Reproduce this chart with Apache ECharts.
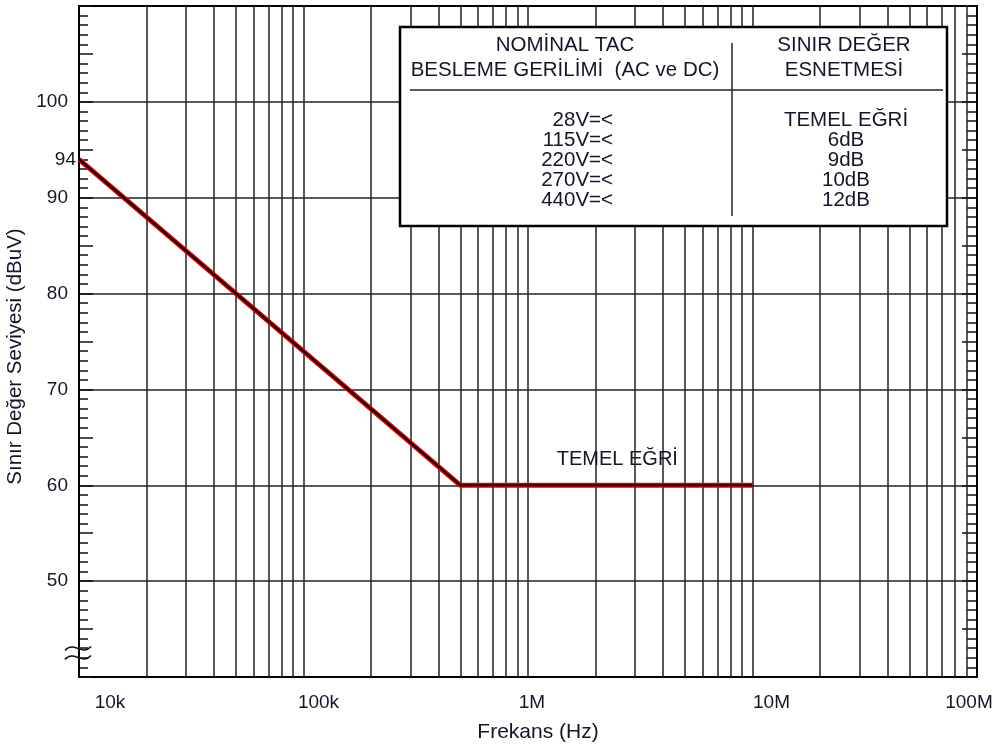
<!DOCTYPE html>
<html><head><meta charset="utf-8">
<script src="https://cdn.jsdelivr.net/npm/echarts@6/dist/echarts.min.js"></script>
<style>html,body{margin:0;padding:0;background:#fff}#c{width:997px;height:748px}</style>
</head><body><div id="c"></div>
<script>
// ---- data ----
const freqs = [10000, 500000, 10000000];
const levels = [94, 60, 60];
const xTickLabels = ['10k', '100k', '1M', '10M', '100M'];
const yTickValues = [50, 60, 70, 80, 90, 100];
const gridDecades = [1e4, 1e5, 1e6, 1e7];
const gridMultipliers = [2, 3, 4, 5, 6, 7, 8, 9];
const startLabel = '94';
const curveLabel = 'TEMEL EĞRİ';
const curveLabelFreq = 2.5e6;
const tableLeftHeader = ['NOMİNAL TAC', 'BESLEME GERİLİMİ  (AC ve DC)'];
const tableRightHeader = ['SINIR DEĞER', 'ESNETMESİ'];
const supplyVoltages = ['28V=<', '115V=<', '220V=<', '270V=<', '440V=<'];
const limitRelaxations = ['TEMEL EĞRİ', '6dB', '9dB', '10dB', '12dB'];
const xTitle = 'Frekans (Hz)';
const yTitle = 'Sınır Değer Seviyesi (dBuV)';
const breakLevel = 42.5;

// ---- styles ----
const FONT = "'Liberation Sans', Arial, sans-serif";
const TXT = '#15152a';
const GRID = '#222';

const chart = echarts.init(document.getElementById('c'), null, {renderer: 'canvas'});
const curve = freqs.map((f, i) => [f, levels[i]]);
const minorFreqs = [];
gridDecades.forEach(d => gridMultipliers.forEach(m => minorFreqs.push(d * m)));

// per-label horizontal shift (px) of the frequency tick labels
const labelShift = [31, 15, 4, 19, -8];
const rich = {};
labelShift.forEach((s, i) => {
  rich['l' + i] = {
    fontSize: 19, fontFamily: FONT, color: TXT,
    padding: s >= 0 ? [0, 0, 0, 2 * s] : [0, -2 * s, 0, 0]
  };
});

const yBase = {
  type: 'value', min: 40, max: 110, gridIndex: 0,
  axisLine: {show: true, lineStyle: {color: '#000', width: 2}},
  splitLine: {show: false}, axisLabel: {show: false}, axisTick: {show: false}
};

const option = {
  animation: false,
  backgroundColor: '#fff',
  grid: {left: 79, right: 20, top: 6, bottom: 71, containLabel: false, outerBoundsMode: 'none'},
  xAxis: [{
    type: 'log', logBase: 10, min: 1e4, max: 1e8,
    axisLine: {show: true, onZero: false, lineStyle: {color: '#000', width: 2}},
    axisTick: {show: false},
    splitLine: {show: true, lineStyle: {color: GRID, width: 1.5}},
    axisLabel: {
      show: true, margin: 16, showMinLabel: true, showMaxLabel: true,
      formatter: v => {
        const i = Math.round(Math.log10(v)) - 4;
        return (i >= 0 && i < xTickLabels.length) ? '{l' + i + '|' + xTickLabels[i] + '}' : '';
      },
      rich: rich
    },
    name: xTitle, nameLocation: 'middle', nameGap: 45,
    nameTextStyle: {fontSize: 21, fontFamily: FONT, color: TXT, padding: [0, 0, 0, 20]}
  }, {
    type: 'log', logBase: 10, min: 1e4, max: 1e8, position: 'top',
    axisLine: {show: true, onZero: false, lineStyle: {color: '#000', width: 2}},
    axisTick: {show: false}, axisLabel: {show: false}, splitLine: {show: false}
  }],
  yAxis: [
    Object.assign({}, yBase, {
      position: 'left', interval: 10,
      splitLine: {show: true, lineStyle: {color: GRID, width: 1.5}},
      axisTick: {show: false, inside: true},
      minorTick: {show: true, splitNumber: 10, length: 9, lineStyle: {color: '#111', width: 1.5}},
      axisLabel: {
        show: true, margin: 11, fontSize: 19, fontFamily: FONT, color: TXT,
        formatter: v => yTickValues.indexOf(Math.round(v)) >= 0 ? String(Math.round(v)) : ''
      },
      name: yTitle, nameLocation: 'middle', nameGap: 48, nameRotate: 90,
      nameTextStyle: {fontSize: 20.5, fontFamily: FONT, color: TXT, padding: [0, 30, 0, 0]}
    }),
    Object.assign({}, yBase, {
      position: 'left', interval: 5,
      axisTick: {show: true, inside: true, length: 14, lineStyle: {color: '#111', width: 1.5}}
    }),
    Object.assign({}, yBase, {
      position: 'right', interval: 10,
      axisTick: {show: false, inside: true},
      minorTick: {show: true, splitNumber: 10, length: 10, lineStyle: {color: '#111', width: 1.5}}
    }),
    Object.assign({}, yBase, {
      position: 'right', interval: 5,
      axisTick: {show: true, inside: true, length: 15, lineStyle: {color: '#111', width: 1.5}}
    })
  ],
  series: [
    {
      type: 'line', data: [], xAxisIndex: 0, yAxisIndex: 0, silent: true, z: 1,
      markLine: {
        silent: true, symbol: 'none', animation: false,
        label: {show: false},
        lineStyle: {color: GRID, width: 1.5, type: 'solid'},
        emphasis: {disabled: true},
        data: minorFreqs.map(v => ({xAxis: v}))
      }
    },
    {
      type: 'line', data: curve, xAxisIndex: 0, yAxisIndex: 0, z: 5,
      symbol: 'none', lineStyle: {color: '#d40000', width: 5},
      markPoint: {
        symbol: 'circle', symbolSize: 0, silent: true,
        data: [
          {coord: [freqs[0], levels[0]], label: {show: true, position: 'left', distance: 3, formatter: startLabel,
            fontSize: 19, fontFamily: FONT, color: TXT}},
          {coord: [curveLabelFreq, levels[1]], label: {show: true, position: 'top', distance: 16, formatter: curveLabel,
            fontSize: 20, fontFamily: FONT, color: TXT}}
        ]
      }
    },
    {
      type: 'line', data: curve, xAxisIndex: 0, yAxisIndex: 0, z: 6,
      symbol: 'none', lineStyle: {color: '#1a0000', width: 2}
    }
  ]
};
chart.setOption(option);

// ---- annotation table and axis break ----
const bx = 400, by = 27, bw = 547, bh = 199;
const tStyle = (t, x, y, align) => ({
  type: 'text', x: x, y: y, z: 102,
  style: {text: t, fontSize: 20.5, fontFamily: FONT, fill: TXT, align: align, verticalAlign: 'middle'}
});
const els = [
  {type: 'rect', z: 100, shape: {x: bx, y: by, width: bw, height: bh}, style: {fill: '#fff', stroke: '#000', lineWidth: 2.5}},
  {type: 'line', z: 101, shape: {x1: 410, y1: 90, x2: 943, y2: 90}, style: {stroke: '#222', lineWidth: 1.5}},
  {type: 'line', z: 101, shape: {x1: 732, y1: 43, x2: 732, y2: 216}, style: {stroke: '#222', lineWidth: 1.5}}
];
tableLeftHeader.forEach((t, i) => els.push(tStyle(t, 565, 45 + i * 25, 'center')));
tableRightHeader.forEach((t, i) => els.push(tStyle(t, 844, 45 + i * 25, 'center')));
supplyVoltages.forEach((t, i) => els.push(tStyle(t, 613, 120 + i * 20, 'right')));
limitRelaxations.forEach((t, i) => els.push(tStyle(t, 846, 120 + i * 20, 'center')));

const axisX = chart.convertToPixel({xAxisIndex: 0}, freqs[0]);
const breakY = chart.convertToPixel({yAxisIndex: 0}, breakLevel);
[-4.5, 4.5].forEach(dy => {
  const y = breakY + dy;
  els.push({type: 'bezierCurve', z: 100, shape: {x1: axisX - 14, y1: y + 2, cpx1: axisX - 5, cpy1: y - 8,
    cpx2: axisX + 3, cpy2: y + 8, x2: axisX + 12, y2: y - 2}, style: {stroke: '#111', lineWidth: 1.5, fill: null}});
});
chart.setOption({graphic: {elements: els}});
</script>
</body></html>
